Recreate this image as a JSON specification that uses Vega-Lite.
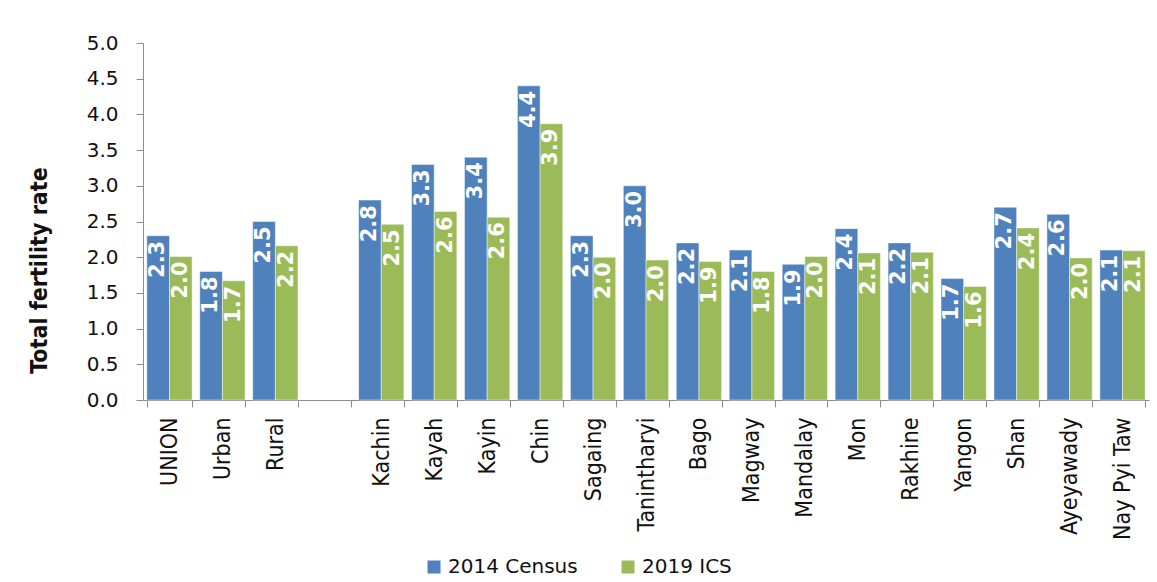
{
  "$schema": "https://vega.github.io/schema/vega-lite/v6.json",
  "autosize": {"type": "none"},
  "width": 1006,
  "height": 357,
  "padding": {"left": 143, "top": 43, "right": 8, "bottom": 182},
  "background": "white",
  "config": {
    "view": {"stroke": null},
    "font": "DejaVu Sans",
    "axis": {"grid": false, "domainColor": "#8c8c8c", "tickColor": "#8c8c8c", "labelColor": "#111111", "labelFont": "DejaVu Sans", "labelFontSize": 20, "titleColor": "#111111"}
  },
  "data": {
    "values": [
      {"area": "UNION", "series": "2014 Census", "tfr": 2.3, "label": "2.3"},
      {"area": "UNION", "series": "2019 ICS", "tfr": 2.01, "label": "2.0"},
      {"area": "Urban", "series": "2014 Census", "tfr": 1.8, "label": "1.8"},
      {"area": "Urban", "series": "2019 ICS", "tfr": 1.67, "label": "1.7"},
      {"area": "Rural", "series": "2014 Census", "tfr": 2.5, "label": "2.5"},
      {"area": "Rural", "series": "2019 ICS", "tfr": 2.16, "label": "2.2"},
      {"area": "Kachin", "series": "2014 Census", "tfr": 2.8, "label": "2.8"},
      {"area": "Kachin", "series": "2019 ICS", "tfr": 2.46, "label": "2.5"},
      {"area": "Kayah", "series": "2014 Census", "tfr": 3.3, "label": "3.3"},
      {"area": "Kayah", "series": "2019 ICS", "tfr": 2.64, "label": "2.6"},
      {"area": "Kayin", "series": "2014 Census", "tfr": 3.4, "label": "3.4"},
      {"area": "Kayin", "series": "2019 ICS", "tfr": 2.56, "label": "2.6"},
      {"area": "Chin", "series": "2014 Census", "tfr": 4.4, "label": "4.4"},
      {"area": "Chin", "series": "2019 ICS", "tfr": 3.87, "label": "3.9"},
      {"area": "Sagaing", "series": "2014 Census", "tfr": 2.3, "label": "2.3"},
      {"area": "Sagaing", "series": "2019 ICS", "tfr": 2.0, "label": "2.0"},
      {"area": "Tanintharyi", "series": "2014 Census", "tfr": 3.0, "label": "3.0"},
      {"area": "Tanintharyi", "series": "2019 ICS", "tfr": 1.96, "label": "2.0"},
      {"area": "Bago", "series": "2014 Census", "tfr": 2.2, "label": "2.2"},
      {"area": "Bago", "series": "2019 ICS", "tfr": 1.94, "label": "1.9"},
      {"area": "Magway", "series": "2014 Census", "tfr": 2.1, "label": "2.1"},
      {"area": "Magway", "series": "2019 ICS", "tfr": 1.8, "label": "1.8"},
      {"area": "Mandalay", "series": "2014 Census", "tfr": 1.9, "label": "1.9"},
      {"area": "Mandalay", "series": "2019 ICS", "tfr": 2.01, "label": "2.0"},
      {"area": "Mon", "series": "2014 Census", "tfr": 2.4, "label": "2.4"},
      {"area": "Mon", "series": "2019 ICS", "tfr": 2.06, "label": "2.1"},
      {"area": "Rakhine", "series": "2014 Census", "tfr": 2.2, "label": "2.2"},
      {"area": "Rakhine", "series": "2019 ICS", "tfr": 2.07, "label": "2.1"},
      {"area": "Yangon", "series": "2014 Census", "tfr": 1.7, "label": "1.7"},
      {"area": "Yangon", "series": "2019 ICS", "tfr": 1.59, "label": "1.6"},
      {"area": "Shan", "series": "2014 Census", "tfr": 2.7, "label": "2.7"},
      {"area": "Shan", "series": "2019 ICS", "tfr": 2.41, "label": "2.4"},
      {"area": "Ayeyawady", "series": "2014 Census", "tfr": 2.6, "label": "2.6"},
      {"area": "Ayeyawady", "series": "2019 ICS", "tfr": 1.99, "label": "2.0"},
      {"area": "Nay Pyi Taw", "series": "2014 Census", "tfr": 2.1, "label": "2.1"},
      {"area": "Nay Pyi Taw", "series": "2019 ICS", "tfr": 2.09, "label": "2.1"}
    ]
  },
  "encoding": {
    "x": {
      "field": "area", "type": "nominal",
      "scale": {"domain": ["UNION", "Urban", "Rural", " ", "Kachin", "Kayah", "Kayin", "Chin", "Sagaing", "Tanintharyi", "Bago", "Magway", "Mandalay", "Mon", "Rakhine", "Yangon", "Shan", "Ayeyawady", "Nay Pyi Taw"], "paddingInner": 0.145, "paddingOuter": 0.0725},
      "axis": {"title": null, "labelAngle": -90, "tickBand": "extent", "tickSize": 7, "labelPadding": 10, "labelAlign": "right", "labelBaseline": "middle", "labelFont": "DejaVu Sans Condensed", "labelFontSize": 23}
    },
    "xOffset": {"field": "series", "type": "nominal", "scale": {"paddingInner": 0, "paddingOuter": 0}},
    "y": {
      "field": "tfr", "type": "quantitative",
      "scale": {"domain": [0, 5], "nice": false},
      "axis": {"title": "Total fertility rate", "values": [0, 0.5, 1, 1.5, 2, 2.5, 3, 3.5, 4, 4.5, 5], "format": ".1f", "tickSize": 7, "labelPadding": 18, "titleFont": "DejaVu Sans Condensed", "titleFontSize": 23, "titleFontWeight": "bold", "titleAngle": -90, "titleX": -104, "titleY": 227, "titleAlign": "center", "titleBaseline": "middle"}
    }
  },
  "layer": [
    {
      "mark": {"type": "bar", "stroke": "white", "strokeOpacity": 0.45, "strokeWidth": 1},
      "encoding": {
        "color": {
          "field": "series", "type": "nominal",
          "scale": {"domain": ["2014 Census", "2019 ICS"], "range": ["#4F81BD", "#9BBB59"]},
          "legend": {"title": null, "orient": "none", "direction": "horizontal", "legendX": 281, "legendY": 514, "symbolType": "square", "symbolSize": 169, "symbolStrokeWidth": 0, "labelFontSize": 20, "labelFont": "DejaVu Sans", "labelColor": "#111111", "labelOffset": 4, "columnPadding": 40, "padding": 0}
        }
      }
    },
    {
      "mark": {"type": "text", "angle": -90, "align": "right", "baseline": "middle", "dx": -5, "color": "white", "fontWeight": "bold", "fontSize": 21, "font": "DejaVu Sans"},
      "encoding": {"text": {"field": "label"}}
    }
  ]
}
